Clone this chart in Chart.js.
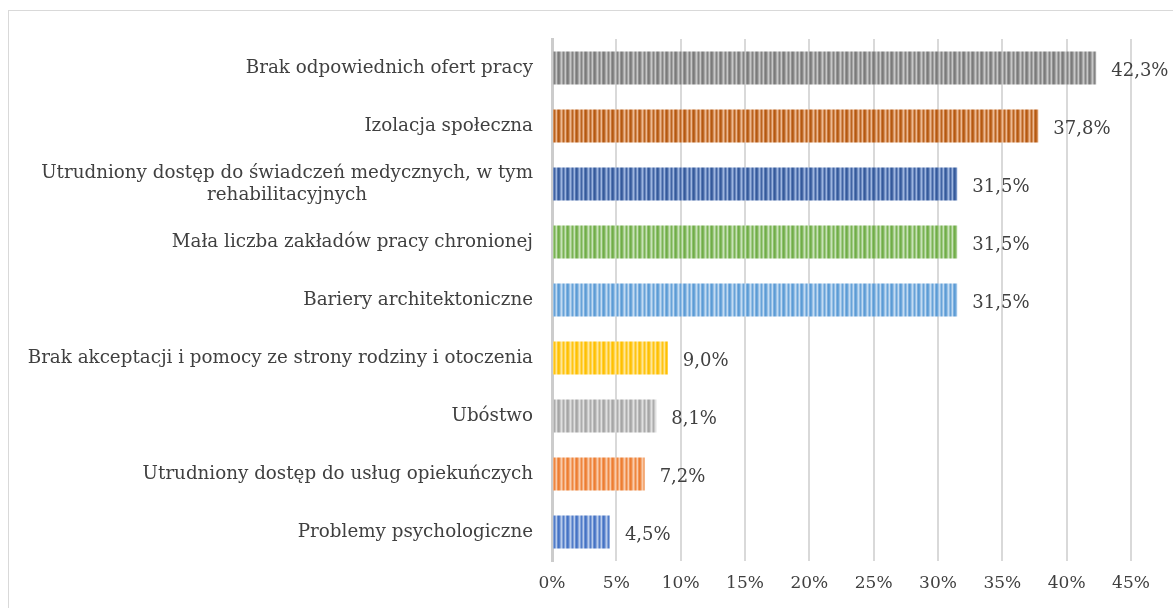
<!DOCTYPE html>
<html><head><meta charset="utf-8">
<script src="https://cdn.jsdelivr.net/npm/chart.js@4.4.0/dist/chart.umd.min.js"></script>
<style>
html,body{margin:0;padding:0;background:#fff;overflow:hidden;}
#frame{position:absolute;left:8px;top:10px;width:1300px;height:700px;border:1px solid #d9d9d9;}
#wrap{position:absolute;left:0;top:0;width:1173px;height:608px;}
</style></head><body>
<div id="frame"></div>
<div id="wrap"><canvas id="c" width="1173" height="608"></canvas></div>
<script>
const categories = [
  "Brak odpowiednich ofert pracy",
  "Izolacja społeczna",
  ["Utrudniony dostęp do świadczeń medycznych, w tym", "rehabilitacyjnych"],
  "Mała liczba zakładów pracy chronionej",
  "Bariery architektoniczne",
  "Brak akceptacji i pomocy ze strony rodziny i otoczenia",
  "Ubóstwo",
  "Utrudniony dostęp do usług opiekuńczych",
  "Problemy psychologiczne"
];
const values = [42.3, 37.8, 31.5, 31.5, 31.5, 9.0, 8.1, 7.2, 4.5];
const valueLabels = ["42,3%", "37,8%", "31,5%", "31,5%", "31,5%", "9,0%", "8,1%", "7,2%", "4,5%"];
const baseColors = ["#7a7a7a", "#b5580f", "#34599b", "#70ad47", "#5b9bd5", "#ffc000", "#a5a5a5", "#ed7d31", "#4472c4"];
const lightColors = ["#d0d0d0", "#f3c4a0", "#a9bfe6", "#d2e8c4", "#cfe2f5", "#ffeaa8", "#e6e6e6", "#fad4b9", "#c6d6f0"];
const tickValues = [0, 5, 10, 15, 20, 25, 30, 35, 40, 45];

const FONT = "'DejaVu Serif', 'Liberation Serif', serif";
const TEXT = "#404040";

function mix(a, b, t) {
  const pa = [1,3,5].map(k => parseInt(a.substr(k,2),16));
  const pb = [1,3,5].map(k => parseInt(b.substr(k,2),16));
  return 'rgb(' + pa.map((v,i) => Math.round(v + (pb[i]-v)*t)).join(',') + ')';
}
function stripe(base, light) {
  const p = document.createElement('canvas');
  p.width = 9; p.height = 1;
  const g = p.getContext('2d');
  const prof = [0, 0.15, 0.55, 0.9, 0.5, 0.1, 0.5, 0.9, 0.3];
  prof.forEach((t, x) => { g.fillStyle = mix(base, light, t); g.fillRect(x, 0, 1, 1); });
  return document.getElementById('c').getContext('2d').createPattern(p, 'repeat');
}
const patterns = baseColors.map((b, i) => stripe(b, lightColors[i]));

const labelPlugin = {
  id: 'labels',
  afterDatasetsDraw(chart) {
    const ctx = chart.ctx;
    const meta = chart.getDatasetMeta(0);
    const y = chart.scales.y;
    ctx.save();
    ctx.fillStyle = TEXT;
    ctx.textBaseline = 'middle';
    ctx.font = "18px " + FONT;
    ctx.textAlign = 'left';
    meta.data.forEach((bar, i) => {
      ctx.fillText(valueLabels[i], bar.x + 15, bar.y + 3);
    });
    ctx.font = "18.3px " + FONT;
    categories.forEach((lab, i) => {
      const cy = y.getPixelForTick(i);
      if (Array.isArray(lab)) {
        const widths = lab.map(l => ctx.measureText(l).width);
        const maxW = Math.max(...widths);
        const cx = 533 - maxW / 2;
        ctx.textAlign = 'center';
        const lh = 22;
        lab.forEach((l, k) => ctx.fillText(l, cx, cy + (k - (lab.length - 1) / 2) * lh));
      } else {
        ctx.textAlign = 'right';
        ctx.fillText(lab, 533, cy);
      }
    });
    ctx.restore();
  }
};

new Chart(document.getElementById('c'), {
  type: 'bar',
  data: {
    labels: categories,
    datasets: [{
      data: values,
      backgroundColor: patterns,
      borderWidth: 0,
      barPercentage: 0.57,
      categoryPercentage: 1
    }]
  },
  options: {
    indexAxis: 'y',
    responsive: false,
    animation: false,
    devicePixelRatio: 1,
    layout: { padding: { top: 39, right: 42, left: 0, bottom: 0 } },
    plugins: { legend: { display: false }, tooltip: { enabled: false } },
    scales: {
      x: {
        min: 0, max: 45,
        afterBuildTicks(scale) { scale.ticks = tickValues.map(v => ({ value: v })); },
        afterFit(scale) { scale.height = 47; },
        grid: { color: '#d9d9d9', lineWidth: 2, drawTicks: false },
        border: { display: false },
        ticks: {
          padding: 12,
          color: TEXT,
          font: { family: FONT, size: 17 },
          callback: v => v + '%'
        }
      },
      y: {
        afterFit(scale) { scale.width = 552; },
        grid: { display: false, drawTicks: false },
        border: { display: true, color: '#cccccc', width: 3 },
        ticks: { display: false }
      }
    }
  },
  plugins: [labelPlugin]
});
</script>
</body></html>
